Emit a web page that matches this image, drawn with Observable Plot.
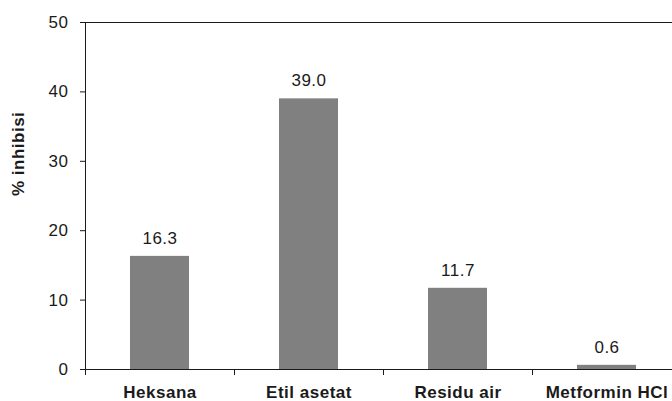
<!DOCTYPE html>
<html><head><meta charset="utf-8">
<script src="https://cdn.jsdelivr.net/npm/d3@7"></script>
<script src="https://cdn.jsdelivr.net/npm/@observablehq/plot@0.6"></script>
<style>html,body{margin:0;padding:0;overflow:hidden;background:#fff;width:672px;height:401px}</style>
</head><body><div id="chart"></div>
<script>
const categories = ["Heksana", "Etil asetat", "Residu air", "Metformin HCl"];
const values = [16.3, 39.0, 11.7, 0.6];
const valueLabels = ["16.3", "39.0", "11.7", "0.6"];
const yTicks = [0, 10, 20, 30, 40, 50];
const data = categories.map((c, i) => ({category: c, i, value: values[i], label: valueLabels[i]}));

const plot = Plot.plot({
  width: 682, height: 401,
  marginLeft: 85, marginRight: 1, marginTop: 22, marginBottom: 32,
  style: {fontFamily: "'Liberation Sans', Arial, sans-serif", fontSize: "17px", color: "#1a1a1a", maxWidth: "none", background: "#fff", letterSpacing: "0.5px"},
  x: {domain: [0, categories.length]},
  y: {domain: [0, 50]},
  marks: [
    Plot.rectY(data, {x1: "i", x2: d => d.i + 1, y: "value", fill: "#808080", insetLeft: 45, insetRight: 45}),
    Plot.ruleY([50], {stroke: "#1a1a1a"}),
    Plot.ruleY([0], {stroke: "#1a1a1a"}),
    Plot.ruleX([0], {stroke: "#1a1a1a"}),
    Plot.axisY({ticks: yTicks, tickSize: 5, tickPadding: 12, label: null, fontSize: 17}),
    Plot.axisX({ticks: d3.range(categories.length + 1), tickFormat: () => "", tickSize: 6, label: null}),
    Plot.text(data, {x: d => d.i + 0.5, y: 0, text: "category", dy: 23, fontWeight: "bold", fontSize: 17}),
    Plot.text(data, {x: d => d.i + 0.5, y: "value", text: "label", dy: -18, fontSize: 17}),
    Plot.text(["% inhibisi"], {frameAnchor: "left", rotate: -90, dx: -67, dy: 0, fontWeight: "bold", fontSize: 17, letterSpacing: "1px"})
  ]
});
document.getElementById("chart").appendChild(plot);
</script>
</body></html>
